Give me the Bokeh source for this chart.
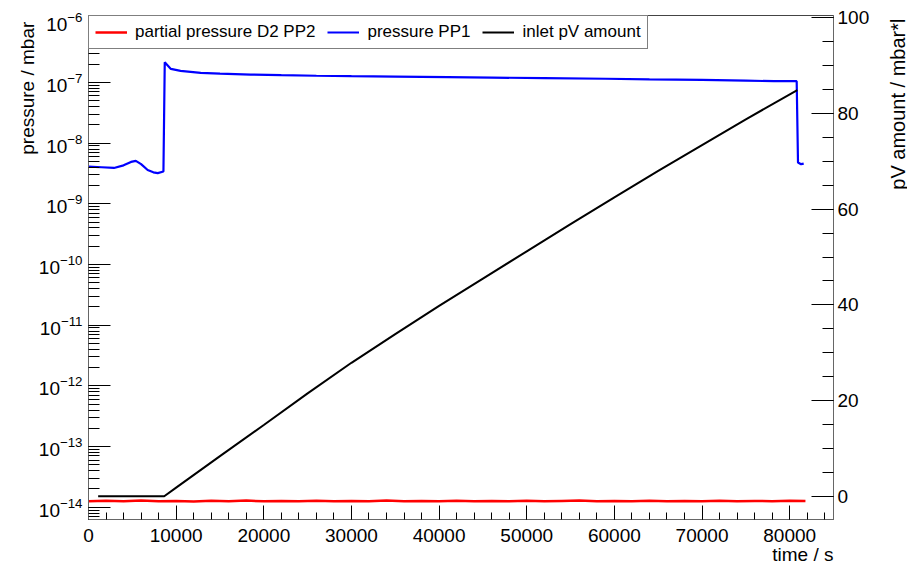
import math
from bokeh.plotting import figure
from bokeh.models import (Range1d, LinearAxis, FixedTicker, NumeralTickFormatter,
                          LinearScale, Label)
from bokeh.embed import file_html
from bokeh.resources import INLINE

# ---------------- data ----------------
# partial pressure D2 PP2 (mbar)
red_t = [0, 2000, 4000, 6000, 8000, 10000, 12000, 14000, 16000, 18000, 20000,
         22000, 24000, 26000, 28000, 30000, 32000, 34000, 36000, 38000, 40000,
         42000, 44000, 46000, 48000, 50000, 52000, 54000, 56000, 58000, 60000,
         62000, 64000, 66000, 68000, 70000, 72000, 74000, 76000, 78000, 80000, 81800]
red_p = [1.26e-14, 1.28e-14, 1.25e-14, 1.29e-14, 1.26e-14, 1.27e-14, 1.24e-14,
         1.28e-14, 1.26e-14, 1.29e-14, 1.25e-14, 1.27e-14, 1.26e-14, 1.28e-14,
         1.25e-14, 1.27e-14, 1.26e-14, 1.29e-14, 1.25e-14, 1.27e-14, 1.26e-14,
         1.28e-14, 1.25e-14, 1.27e-14, 1.26e-14, 1.28e-14, 1.25e-14, 1.27e-14,
         1.29e-14, 1.25e-14, 1.27e-14, 1.26e-14, 1.28e-14, 1.25e-14, 1.27e-14,
         1.26e-14, 1.28e-14, 1.25e-14, 1.27e-14, 1.26e-14, 1.28e-14, 1.27e-14]

# pressure PP1 (mbar)
blue_t = [0, 1500, 2900, 4000, 4850, 5400, 6000, 6750, 7400, 7900, 8550,
          8700, 9400, 10500, 12800, 15000, 18500, 22000, 26000, 30000, 35000,
          41000, 46000, 52000, 59000, 64000, 70000, 75000, 78200, 80800,
          80950, 81300, 81600]
blue_p = [4.1e-9, 4.0e-9, 3.9e-9, 4.3e-9, 4.9e-9, 5.1e-9, 4.5e-9, 3.6e-9,
          3.3e-9, 3.2e-9, 3.4e-9,
          2.15e-7, 1.67e-7, 1.55e-7, 1.44e-7, 1.40e-7, 1.35e-7, 1.32e-7,
          1.29e-7, 1.27e-7, 1.25e-7, 1.22e-7, 1.20e-7, 1.18e-7, 1.15e-7,
          1.12e-7, 1.10e-7, 1.07e-7, 1.05e-7, 1.05e-7,
          4.8e-9, 4.5e-9, 4.6e-9]

# inlet pV amount (mbar*l)
black_t = [1100, 8640, 10000, 15000, 20000, 25000, 30000, 35000, 40000, 45000,
           50000, 55000, 60000, 65000, 70000, 75000, 80870]
black_v = [0.0, 0.0, 1.8, 8.4, 14.9, 21.5, 27.9, 33.9, 39.8, 45.5,
           51.2, 56.9, 62.5, 68.0, 73.4, 78.8, 84.9]

# axis ticks / labels
x_major = [0, 10000, 20000, 30000, 40000, 50000, 60000, 70000, 80000]
x_minor = list(range(0, 85001, 2000))
p_decades = [-14, -13, -12, -11, -10, -9, -8, -7, -6]
pv_major = [0, 20, 40, 60, 80, 100]
pv_minor = list(range(0, 101, 5))

legend_labels = ["partial pressure D2 PP2", "pressure PP1", "inlet pV amount"]
x_title = "time / s"
y_title = "pressure / mbar"
y2_title = "pV amount / mbar*l"

# ---------------- figure ----------------
FONT = "Liberation Sans"

p = figure(width=907, height=565,
           x_range=Range1d(0, 85000),
           y_range=Range1d(10 ** -14.202, 10 ** -5.897),
           y_axis_type="log",
           output_backend="svg", toolbar_location=None, title=None,
           min_border_left=88, min_border_right=74,
           min_border_top=15, min_border_bottom=45)
p.extra_y_ranges = {"pv": Range1d(-4.86, 100.5)}
p.extra_y_scales = {"pv": LinearScale()}
p.xgrid.visible = False
p.ygrid.visible = False
p.outline_line_color = "#444444"
p.outline_line_width = 1
p.background_fill_color = "white"
p.border_fill_color = "white"

p_major = [10.0 ** d for d in p_decades]
p_minor = [m * 10.0 ** d for d in [-15] + p_decades for m in range(1, 10)]


def style_axis(ax, tick_in, minor_in, standoff):
    ax.major_tick_in = tick_in
    ax.major_tick_out = 0
    ax.minor_tick_in = minor_in
    ax.minor_tick_out = 0
    ax.major_tick_line_color = "black"
    ax.minor_tick_line_color = "black"
    ax.axis_line_color = "#666666"
    ax.major_label_text_font = FONT
    ax.major_label_text_font_size = "19px"
    ax.major_label_text_color = "black"
    ax.major_label_standoff = standoff


def title_axis(ax, tick, text, orient, standoff):
    ax.ticker = FixedTicker(ticks=[tick], minor_ticks=[])
    ax.major_label_overrides = {tick: text}
    ax.major_label_orientation = orient
    ax.major_label_standoff = standoff
    ax.major_label_text_font = FONT
    ax.major_label_text_font_size = "19px"
    ax.major_label_text_color = "black"
    ax.axis_line_color = None
    ax.major_tick_line_color = None
    ax.minor_tick_line_color = None
    ax.major_tick_in = 0
    ax.major_tick_out = 0
    ax.minor_tick_in = 0
    ax.minor_tick_out = 0


xa = p.xaxis[0]
xa.ticker = FixedTicker(ticks=x_major, minor_ticks=x_minor)
xa.formatter = NumeralTickFormatter(format="0")
style_axis(xa, 14, 7, 9)

ya = p.yaxis[0]
ya.ticker = FixedTicker(ticks=p_major, minor_ticks=p_minor)
style_axis(ya, 22, 11, 6)

ra = LinearAxis(y_range_name="pv",
                ticker=FixedTicker(ticks=pv_major, minor_ticks=pv_minor))
style_axis(ra, 22, 11, 4)
p.add_layout(ra, "right")

# axis titles drawn outside the frame
x_label = Label(x=745, y=11, x_units="screen", y_units="screen",
                text=x_title, text_align="right", text_baseline="middle",
                text_font=FONT, text_font_size="19px", text_color="black")
p.add_layout(x_label, "below")

yt = LinearAxis(y_range_name="pv")
title_axis(yt, 99.2, y_title, math.pi / 2, 8)
p.add_layout(yt, "left")

y2_label = Label(x=25, y=501, x_units="screen", y_units="screen",
                 text=y2_title, angle=math.pi / 2, text_align="right",
                 text_baseline="middle", text_font=FONT,
                 text_font_size="20px", text_color="black")
p.add_layout(y2_label, "right")

# ---------------- series ----------------
p.line(red_t, red_p, line_color="#ff0000", line_width=2.5,
       legend_label=legend_labels[0])
p.line(blue_t, blue_p, line_color="#0000ff", line_width=2.2,
       legend_label=legend_labels[1])
p.line(black_t, black_v, line_color="black", line_width=2,
       y_range_name="pv", legend_label=legend_labels[2])

lg = p.legend[0]
lg.location = "top_left"
lg.orientation = "horizontal"
lg.margin = 0
lg.padding = 6
lg.spacing = 12
lg.glyph_width = 32
lg.glyph_height = 20
lg.label_height = 20
lg.label_standoff = 8
lg.label_text_font = FONT
lg.label_text_font_size = "17px"
lg.label_text_color = "black"
lg.border_line_color = "black"
lg.border_line_width = 1
lg.background_fill_color = "white"
lg.background_fill_alpha = 1.0

open("out.html", "w").write(file_html(p, INLINE))
